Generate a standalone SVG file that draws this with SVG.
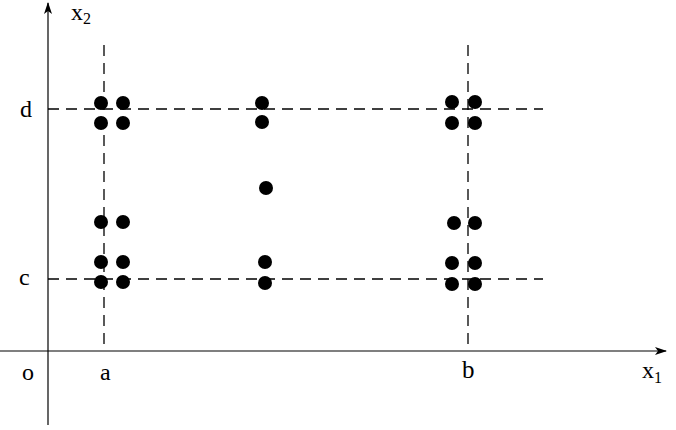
<svg xmlns="http://www.w3.org/2000/svg" width="676" height="430" viewBox="0 0 676 430">
<style>
.axis{stroke:#000;stroke-width:1.2;fill:none}
.dash{stroke:#000;stroke-width:1.3;stroke-dasharray:11 7;fill:none}
.dot{fill:#000}
text{font-family:"Liberation Serif","Times New Roman",serif;font-size:24px;fill:#000}
.sub{font-size:16px}
</style>
<defs>
<marker id="arr" markerWidth="12" markerHeight="8" refX="11" refY="4" orient="auto" markerUnits="userSpaceOnUse">
<path d="M0,0 L12,4 L0,8 L3,4 Z" fill="#000"/>
</marker>
</defs>
<g id="connectors">
<line class="axis" x1="48" y1="425" x2="48" y2="3" marker-end="url(#arr)"/>
<line class="axis" x1="0" y1="351" x2="666" y2="351" marker-end="url(#arr)"/>
<line class="dash" x1="48" y1="109" x2="543" y2="109"/>
<line class="dash" x1="48" y1="279" x2="543" y2="279"/>
<line class="dash" x1="104" y1="45" x2="104" y2="351"/>
<line class="dash" x1="468" y1="45" x2="468" y2="351"/>
</g>
<g id="labels">
<text x="71" y="20">x<tspan class="sub" dy="4">2</tspan></text>
<text x="20" y="117">d</text>
<text x="19" y="285">c</text>
<text x="22" y="380">o</text>
<text x="100" y="380">a</text>
<text x="462" y="378" style="font-size:25px">b</text>
<text x="642" y="378">x<tspan class="sub" dy="5">1</tspan></text>
</g>
<g id="dots">
<circle class="dot" cx="101" cy="103" r="7"/>
<circle class="dot" cx="123" cy="103" r="7"/>
<circle class="dot" cx="101" cy="123" r="7"/>
<circle class="dot" cx="123" cy="123" r="7"/>
<circle class="dot" cx="101" cy="222" r="7"/>
<circle class="dot" cx="123" cy="222" r="7"/>
<circle class="dot" cx="101" cy="262" r="7"/>
<circle class="dot" cx="123" cy="262" r="7"/>
<circle class="dot" cx="101" cy="282" r="7"/>
<circle class="dot" cx="123" cy="282" r="7"/>
<circle class="dot" cx="262" cy="103" r="7"/>
<circle class="dot" cx="262" cy="122" r="7"/>
<circle class="dot" cx="266" cy="188" r="7"/>
<circle class="dot" cx="265" cy="262" r="7"/>
<circle class="dot" cx="265" cy="283" r="7"/>
<circle class="dot" cx="452" cy="102" r="7"/>
<circle class="dot" cx="475" cy="102" r="7"/>
<circle class="dot" cx="452" cy="123" r="7"/>
<circle class="dot" cx="475" cy="123" r="7"/>
<circle class="dot" cx="454" cy="223" r="7"/>
<circle class="dot" cx="475" cy="223" r="7"/>
<circle class="dot" cx="452" cy="263" r="7"/>
<circle class="dot" cx="475" cy="263" r="7"/>
<circle class="dot" cx="452" cy="284" r="7"/>
<circle class="dot" cx="475" cy="284" r="7"/>
</g>
</svg>
